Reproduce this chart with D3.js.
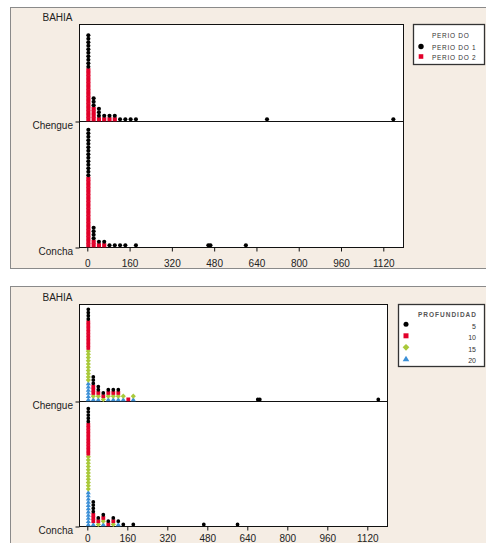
<!DOCTYPE html>
<html>
<head>
<meta charset="utf-8">
<script src="https://cdn.jsdelivr.net/npm/d3@7"></script>
<style>
	body { margin: 0; background: #fff; }
	svg { display: block; }
	text { font-family: "Liberation Sans", Arial, sans-serif; }
</style>
</head>
<body>
<div class="chart"></div>
<script>
// categories and tick labels
const bahias = ["Chengue", "Concha"];
const xTicks = [0, 160, 320, 480, 640, 800, 960, 1120];
const periodos = ["PERIO DO 1", "PERIO DO 2"];
const profundidades = ["5", "10", "15", "20"];

// panel 1 : [value, number of dots]
const chenguePeriodo1 = [[4, 10], [24, 3], [44, 3], [64, 1], [84, 1], [104, 1], [124, 1], [144, 1], [164, 1], [184, 1], [680, 1], [1158, 1]];
const chenguePeriodo2 = [[4, 15], [24, 4], [44, 1], [64, 1], [84, 1], [104, 1]];
const conchaPeriodo1 = [[4, 14], [24, 4], [44, 1], [64, 1], [84, 1], [104, 1], [124, 1], [144, 1], [184, 1], [458, 1], [466, 1], [600, 1]];
const conchaPeriodo2 = [[4, 20], [24, 2], [44, 1], [64, 1]];

// panel 2 : [value, number of dots]
const chengueProf5 = [[4, 4], [24, 3], [44, 2], [64, 1], [84, 1], [104, 1], [124, 1], [682, 1], [690, 1], [1164, 1]];
const chengueProf10 = [[4, 9], [24, 3], [44, 1], [64, 1], [84, 1], [104, 1], [124, 1], [164, 1]];
const chengueProf15 = [[4, 10], [24, 1], [44, 1], [64, 1], [84, 1], [104, 1], [124, 1], [144, 1], [184, 1]];
const chengueProf20 = [[4, 6], [24, 1], [44, 1], [84, 1], [104, 1], [124, 1], [144, 1], [184, 1]];
const conchaProf5 = [[4, 5], [24, 4], [44, 1], [64, 1], [84, 1], [104, 1], [124, 1], [144, 1], [184, 1], [466, 1], [601, 1]];
const conchaProf10 = [[4, 10], [24, 3], [44, 1], [64, 1], [84, 1], [104, 1]];
const conchaProf15 = [[4, 11], [44, 1], [64, 1], [104, 1]];
const conchaProf20 = [[4, 11], [24, 1], [64, 1], [124, 1]];

const colors = {black: "#000000", red: "#e2002a", green: "#a9c93a", blue: "#3b8fd6"};

(function () {
	const svg = d3.select(".chart").append("svg")
		.attr("width", 486)
		.attr("height", 543);

	drawPanel(svg, {
		panel: {x: 10, y: 7, w: 490, h: 261},
		plot: {l: 79, r: 403, t: 24, b: 247, chengue: 121},
		xRange: [87.3, 383.3],
		tickPadding: 8.5,
		groups: [
			{name: periodos[0], shape: "circle", color: colors.black, data: {Chengue: chenguePeriodo1, Concha: conchaPeriodo1}},
			{name: periodos[1], shape: "square", color: colors.red, data: {Chengue: chenguePeriodo2, Concha: conchaPeriodo2}}
		],
		legend: {x: 413, y: 24, w: 71, h: 40, title: "PERIO DO", style: "left"}
	});

	drawPanel(svg, {
		panel: {x: 10, y: 286, w: 490, h: 270},
		plot: {l: 79, r: 387, t: 304, b: 526, chengue: 401},
		xRange: [87.3, 367.3],
		tickPadding: 4,
		groups: [
			{name: profundidades[0], shape: "circle", color: colors.black, data: {Chengue: chengueProf5, Concha: conchaProf5}},
			{name: profundidades[1], shape: "square", color: colors.red, data: {Chengue: chengueProf10, Concha: conchaProf10}},
			{name: profundidades[2], shape: "diamond", color: colors.green, data: {Chengue: chengueProf15, Concha: conchaProf15}},
			{name: profundidades[3], shape: "triangle", color: colors.blue, data: {Chengue: chengueProf20, Concha: conchaProf20}}
		],
		legend: {x: 398, y: 304, w: 86, h: 62, title: "PROFUNDIDAD", style: "right"}
	});
}());

function symbolPath(shape, s) {
	const r = s / 2;
	if (shape === "circle") {
		return d3.symbol().type(d3.symbolCircle).size(Math.PI * r * r)();
	}
	if (shape === "square") {
		return "M" + (-r) + "," + (-r) + "h" + s + "v" + s + "h" + (-s) + "Z";
	}
	if (shape === "diamond") {
		const w = r * 1.35;
		return "M0," + (-w) + "L" + w + ",0L0," + w + "L" + (-w) + ",0Z";
	}
	const t = r * 1.2;
	return "M0," + (-t) + "L" + (t * 1.1) + "," + r + "L" + (-t * 1.1) + "," + r + "Z";
}

function drawPanel(svg, cfg) {
	const p = cfg.plot;

	svg.append("rect")
		.attr("x", cfg.panel.x + 0.5)
		.attr("y", cfg.panel.y + 0.5)
		.attr("width", cfg.panel.w)
		.attr("height", cfg.panel.h)
		.attr("fill", "#f5ede4")
		.attr("stroke", "#8a8a8a");

	svg.append("rect")
		.attr("x", p.l + 0.5)
		.attr("y", p.t + 0.5)
		.attr("width", p.r - p.l)
		.attr("height", p.b - p.t)
		.attr("fill", "#fff")
		.attr("stroke", "#111");

	const x = d3.scaleLinear().domain([0, 1120]).range(cfg.xRange);
	const y = d3.scalePoint().domain(bahias).range([p.chengue, p.b]);

	// build stacks: last group sits at the bottom
	const dots = [];
	let maxStack = 0;
	bahias.forEach(function (b) {
		const counter = {};
		cfg.groups.slice().reverse().forEach(function (g) {
			g.data[b].forEach(function (d) {
				for (let k = 0; k < d[1]; k++) {
					const idx = counter[d[0]] || 0;
					counter[d[0]] = idx + 1;
					dots.push({bahia: b, value: d[0], index: idx, group: g});
					maxStack = Math.max(maxStack, idx + 1);
				}
			});
		});
	});

	const stack = d3.scaleLinear().domain([0, maxStack]).range([0, 119]);
	const size = stack(1) * 1.18;

	svg.append("line")
		.attr("x1", p.l).attr("x2", p.r)
		.attr("y1", y("Chengue") + 0.5).attr("y2", y("Chengue") + 0.5)
		.attr("stroke", "#111");

	svg.append("g").selectAll("path")
		.data(dots)
		.enter().append("path")
		.attr("transform", function (d) {
			return "translate(" + x(d.value) + "," + (y(d.bahia) - stack(d.index + 0.5)) + ")";
		})
		.attr("d", function (d) { return symbolPath(d.group.shape, size); })
		.attr("fill", function (d) { return d.group.color; });

	const xAxis = svg.append("g")
		.attr("transform", "translate(0," + (p.b + 0.5) + ")")
		.call(d3.axisBottom(x).tickValues(xTicks).tickFormat(d3.format("d"))
			.tickSize(4).tickSizeOuter(0).tickPadding(cfg.tickPadding));
	xAxis.select(".domain").remove();
	xAxis.selectAll("line").attr("stroke", "#111");
	xAxis.selectAll("text").attr("font-size", "10px").attr("font-family", null).attr("fill", "#222");

	const yAxis = svg.append("g")
		.attr("transform", "translate(" + (p.l + 0.5) + ",0.5)")
		.call(d3.axisLeft(y).tickSize(4).tickSizeOuter(0).tickPadding(2.5));
	yAxis.select(".domain").remove();
	yAxis.selectAll("line").attr("stroke", "#111");
	yAxis.selectAll("text").attr("font-size", "10px").attr("font-family", null).attr("fill", "#222").attr("y", 3.7);

	svg.append("text")
		.attr("x", 72.5)
		.attr("y", p.t - 3.2)
		.attr("text-anchor", "end")
		.attr("font-size", "10px")
		.attr("fill", "#222")
		.text("BAHIA");

	drawLegend(svg, cfg);
}

function drawLegend(svg, cfg) {
	const lg = cfg.legend;
	const g = svg.append("g").attr("transform", "translate(" + lg.x + "," + lg.y + ")");

	g.append("rect")
		.attr("x", 0.5).attr("y", 0.5)
		.attr("width", lg.w).attr("height", lg.h)
		.attr("fill", "#fff")
		.attr("stroke", "#333")
		.attr("stroke-width", 1.3);

	if (lg.style === "left") {
		g.append("text")
			.attr("x", 19).attr("y", 13.5)
			.attr("font-size", "6.5px").attr("letter-spacing", "0.7px").attr("fill", "#333")
			.text(lg.title);
		cfg.groups.forEach(function (d, i) {
			g.append("path")
				.attr("transform", "translate(8," + (22.5 + i * 10) + ")")
				.attr("d", symbolPath(d.shape, i === 0 ? 5.4 : 4.6))
				.attr("fill", d.color);
			g.append("text")
				.attr("x", 19).attr("y", 25.5 + i * 10.5)
				.attr("font-size", "6.5px").attr("letter-spacing", "0.7px").attr("fill", "#333")
				.text(d.name);
		});
	} else {
		g.append("text")
			.attr("x", 79).attr("y", 12.8)
			.attr("text-anchor", "end")
			.attr("font-size", "6.5px").attr("font-weight", "bold").attr("letter-spacing", "1px").attr("fill", "#555")
			.text(lg.title);
		cfg.groups.forEach(function (d, i) {
			g.append("path")
				.attr("transform", "translate(8," + (20.3 + i * 11.5) + ")")
				.attr("d", symbolPath(d.shape, 5))
				.attr("fill", d.color);
			g.append("text")
				.attr("x", 78).attr("y", 24.5 + i * 11.5)
				.attr("text-anchor", "end")
				.attr("font-size", "7px").attr("fill", "#333")
				.text(d.name);
		});
	}
}
</script>
</body>
</html>
